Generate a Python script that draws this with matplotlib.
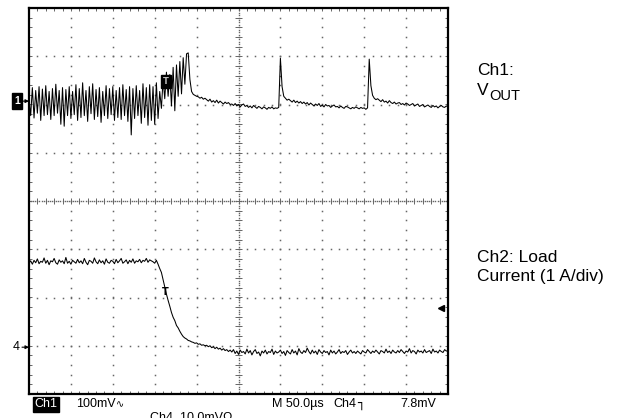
import matplotlib
matplotlib.use("Agg")
import matplotlib.pyplot as plt
import numpy as np

# time base: 50 us/div, 10 div, one sample every 2 us
dt = 2.0

# Ch1 : Vout (mV, 100 mV/div)
ch1_pre = [5, -30, 28, -35, 22, -25, 30, -40, 25, -30,
           32, -28, 20, -38, 26, -30, 35, -25, 22, -48,
           28, -52, 24, -30, 30, -36, 20, -28, 34, -40,
           26, -34, 38, -30, 22, -42, 30, -26, 36, -38,
           24, -32, 28, -44, 20, -30, 32, -36, 26, -28,
           30, -40, 22, -34, 28, -38, 34, -30, 24, -42,
           30, -70, 26, -36, 32, -30, 22, -46, 36, -34,
           28, -50, 34, -40, 30, -48, 38, -36]
ch1_step = [20, -15, 45, 5, 60, 10, 55, -10, 70, -20, 75, 10, 82, 15, 90, 35, 98, 100, 45, 20, 14]
ch1_settle = [12, 10, 9, 6, 8, 4, 6,
              3, 0, 4, -2, 1, -3, 2, -4, 0, -3, -6, -2, -5, -3, -7,
              -6, -9, -5, -10, -7, -12, -8, -6, -11, -9, -13, -10, -14, -9, -12,
              -15, -11, -13, -16, -12, -14, -17, -13, -15, -12, -16, -14, -15, -13]
ch1_spike1 = [89, 30, 10, 6, 2, 4]
ch1_mid = [1, -2, 2, -3, 0, -4, -1, -5, -2, -6, -3, -8, -4, -7, -10, -6, -9, -5, -11, -8,
           -12, -7, -10, -9, -13, -10, -8, -12, -11, -14, -10, -13, -15, -11, -12, -14, -16,
           -13, -15, -12, -14, -16, -13, -15, -14, -17, -14]
ch1_spike2 = [87, 32, 12, 6, 3, 5]
ch1_end = [2, -1, 3, -2, 0, -4, 1, -3, -5, -2, -6, -4, -3, -7, -5, -8, -4, -6, -9, -7,
           -5, -10, -8, -6, -11, -9, -7, -12, -10, -8, -11, -13, -9, -12, -10, -14, -11, -9,
           -12, -13, -10, -12]

# Ch4 : load current (A, 1 A/div)
ch4_high = [1.74, 1.79, 1.72, 1.80, 1.75, 1.83, 1.73, 1.78, 1.76, 1.85,
            1.74, 1.80, 1.71, 1.79, 1.77, 1.84, 1.75, 1.72, 1.81, 1.76,
            1.79, 1.73, 1.86, 1.74, 1.78, 1.72, 1.80, 1.77, 1.74, 1.82,
            1.75, 1.79, 1.73, 1.84, 1.76, 1.71, 1.80, 1.78, 1.74, 1.85,
            1.77, 1.73, 1.81, 1.75, 1.79, 1.72, 1.83, 1.76, 1.74, 1.80,
            1.78, 1.73, 1.82, 1.75, 1.79, 1.84, 1.74, 1.77, 1.81, 1.73,
            1.80, 1.76, 1.83, 1.74, 1.79, 1.77, 1.82, 1.75, 1.80, 1.78,
            1.84, 1.76, 1.81, 1.79, 1.77, 1.74]
ch4_fall = [1.80, 1.72, 1.63, 1.55, 1.40, 1.24, 1.10, 0.97, 0.85, 0.72,
            0.62, 0.55, 0.45, 0.40, 0.33, 0.27, 0.22, 0.19, 0.17, 0.14,
            0.13, 0.11, 0.10, 0.08, 0.09, 0.06, 0.07, 0.04, 0.05, 0.03,
            0.04, 0.01, 0.03, -0.01, 0.01, -0.03, 0.00, -0.04, -0.02, -0.06,
            -0.03, -0.07, -0.05, -0.09, -0.06]
ch4_low = [-0.10, -0.05, -0.13, -0.08, -0.15, -0.06, -0.11, -0.09, -0.14, -0.04,
           -0.12, -0.07, -0.16, -0.09, -0.05, -0.13, -0.10, -0.18, -0.08, -0.12,
           -0.06, -0.14, -0.09, -0.11, -0.04, -0.15, -0.08, -0.12, -0.10, -0.06,
           -0.13, -0.09, -0.17, -0.07, -0.11, -0.14, -0.05, -0.12, -0.08, -0.16,
           -0.03, -0.10, -0.13, -0.07, -0.11, -0.02, -0.09, -0.14, -0.06, -0.12,
           -0.08, -0.15, -0.05, -0.10, -0.13, -0.07, -0.11, -0.09, -0.16, -0.06,
           -0.12, -0.08, -0.14, -0.10, -0.05, -0.13, -0.09, -0.11, -0.07, -0.15,
           -0.10, -0.06, -0.12, -0.09, -0.13, -0.08, -0.11, -0.14, -0.07, -0.10,
           -0.12, -0.05, -0.09, -0.13, -0.08, -0.11, -0.06, -0.10, -0.14, -0.07,
           -0.09, -0.12, -0.04, -0.11, -0.08, -0.13, -0.06, -0.10, -0.12, -0.07,
           -0.11, -0.05, -0.09, -0.13, -0.08, -0.10, -0.03, -0.12, -0.07, -0.09,
           -0.14, -0.06, -0.10, -0.08, -0.12, -0.05, -0.11, -0.09, -0.07, -0.13,
           -0.04, -0.10, -0.08, -0.12, -0.06, -0.09, -0.11, -0.05, -0.08, -0.07]

# channel ground markers (in divisions)
ch1_pos = 2.07
ch4_pos = -3.03


def segments(parts):
    # parts = list of (start time, values), sampled every dt
    T, V = [], []
    for t0, vals in parts:
        T.append(t0 + dt * np.arange(len(vals)))
        V.append(np.array(vals, dtype=float))
    return np.concatenate(T), np.concatenate(V)


t1, v1 = segments([(0, ch1_pre), (156, ch1_step), (198, ch1_settle), (300, ch1_spike1),
                   (312, ch1_mid), (406, ch1_spike2), (418, ch1_end)])
t4, v4 = segments([(0, ch4_high), (152, ch4_fall), (242, ch4_low)])

fig = plt.figure(figsize=(6.27, 4.18), dpi=100)
ax = fig.add_axes([29 / 627, 1 - 394 / 418, 419 / 627, 386 / 418])
ax.set_xlim(0, 500)
ax.set_ylim(-4, 4)
ax.set_xticks([])
ax.set_yticks([])
for s in ax.spines.values():
    s.set_linewidth(1.6)

# graticule
gc = '#666666'
gx = np.arange(0, 501, 10)
gy = np.arange(-4, 4.001, 0.2)
for k in range(1, 10):
    if k != 5:
        ax.plot(np.full(len(gy), 50 * k), gy, ls='none', marker='s', ms=1.1, mew=0, color=gc)
for k in range(-3, 4):
    if k != 0:
        ax.plot(gx, np.full(len(gx), k), ls='none', marker='s', ms=1.1, mew=0, color=gc)
cx = np.arange(0, 501, 2.5)
cy = np.arange(-4, 4.001, 0.05)
ax.plot(cx, np.zeros(len(cx)), ls='none', marker='s', ms=1.0, mew=0, color=gc)
ax.plot(np.full(len(cy), 250), cy, ls='none', marker='s', ms=1.0, mew=0, color=gc)
ax.vlines(gx, -0.065, 0.065, lw=0.7, color=gc)
ax.hlines(gy, 246, 254, lw=0.7, color=gc)
ax.vlines(gx, 3.94, 4, lw=0.7, color=gc)
ax.vlines(gx, -4, -3.94, lw=0.7, color=gc)
ax.hlines(gy, 0, 3, lw=0.7, color=gc)
ax.hlines(gy, 497, 500, lw=0.7, color=gc)

# traces
ax.plot(t1, ch1_pos + v1 / 100.0, color='black', lw=0.75)
ax.plot(t4, ch4_pos + v4, color='black', lw=0.75)

# trigger markers
ax.text(163.5, 2.47, 'T', color='#bbbbbb', fontsize=6, fontweight='bold', ha='center', va='center',
        bbox=dict(boxstyle='square,pad=0.25', fc='black', ec='black'))
ax.text(163, -1.89, 'T', color='black', fontsize=7, fontweight='bold', ha='center', va='center')
ax.plot([492], [-2.22], marker='<', ms=4.5, color='black', ls='none')

# ground markers left of screen
fig.text(17 / 627, 1 - 101 / 418, '1', color='white', fontsize=7.5, fontweight='bold', ha='center', va='center',
         family='Liberation Sans', bbox=dict(boxstyle='square,pad=0.25', fc='black', ec='black'))
fig.text(16 / 627, 1 - 347 / 418, '4', fontsize=9, ha='center', va='center', family='Liberation Sans')
for yg in [ch1_pos, ch4_pos]:
    ax.annotate('', xy=(0, yg), xytext=(-7, 0), textcoords='offset pixels', xycoords='data',
                annotation_clip=False,
                arrowprops=dict(arrowstyle='-|>', lw=0.8, color='black', mutation_scale=5,
                                shrinkA=0, shrinkB=0))

# scope status line
fs = 9
yb = 1 - 407 / 418
fig.text(34 / 627, yb, 'Ch1', color='white', fontsize=fs, va='baseline', family='Liberation Sans',
         bbox=dict(boxstyle='square,pad=0.12', fc='black', ec='black'))
fig.text(76 / 627, yb, '100mV', fontsize=fs, va='baseline', family='Liberation Sans')
fig.text(116 / 627, yb, '\u223f', fontsize=7, va='baseline', family='DejaVu Sans')
fig.text(272 / 627, yb, 'M 50.0\u00b5s', fontsize=fs, va='baseline', family='Liberation Sans')
fig.text(333 / 627, yb, 'Ch4', fontsize=fs, va='baseline', family='Liberation Sans')
fig.text(357 / 627, yb, '\u2510', fontsize=fs, va='baseline', family='DejaVu Sans')
fig.text(400 / 627, yb, '7.8mV', fontsize=fs, va='baseline', family='Liberation Sans')
fig.text(150 / 627, 1 - 421 / 418, 'Ch4  10.0mV\u03a9', fontsize=fs, va='baseline', family='Liberation Sans')

# channel notes on the right
fr = 12.5
fig.text(477 / 627, 1 - 75 / 418, 'Ch1:', fontsize=fr, va='baseline', family='Liberation Sans')
fig.text(477 / 627, 1 - 95 / 418, 'V', fontsize=fr, va='baseline', family='Liberation Sans')
fig.text(489 / 627, 1 - 100 / 418, 'OUT', fontsize=10.5, va='baseline', family='Liberation Sans')
fig.text(477 / 627, 1 - 262 / 418, 'Ch2: Load', fontsize=fr, va='baseline', family='Liberation Sans')
fig.text(477 / 627, 1 - 281 / 418, 'Current (1 A/div)', fontsize=fr, va='baseline', family='Liberation Sans')

fig.savefig('out.png', dpi=100)
